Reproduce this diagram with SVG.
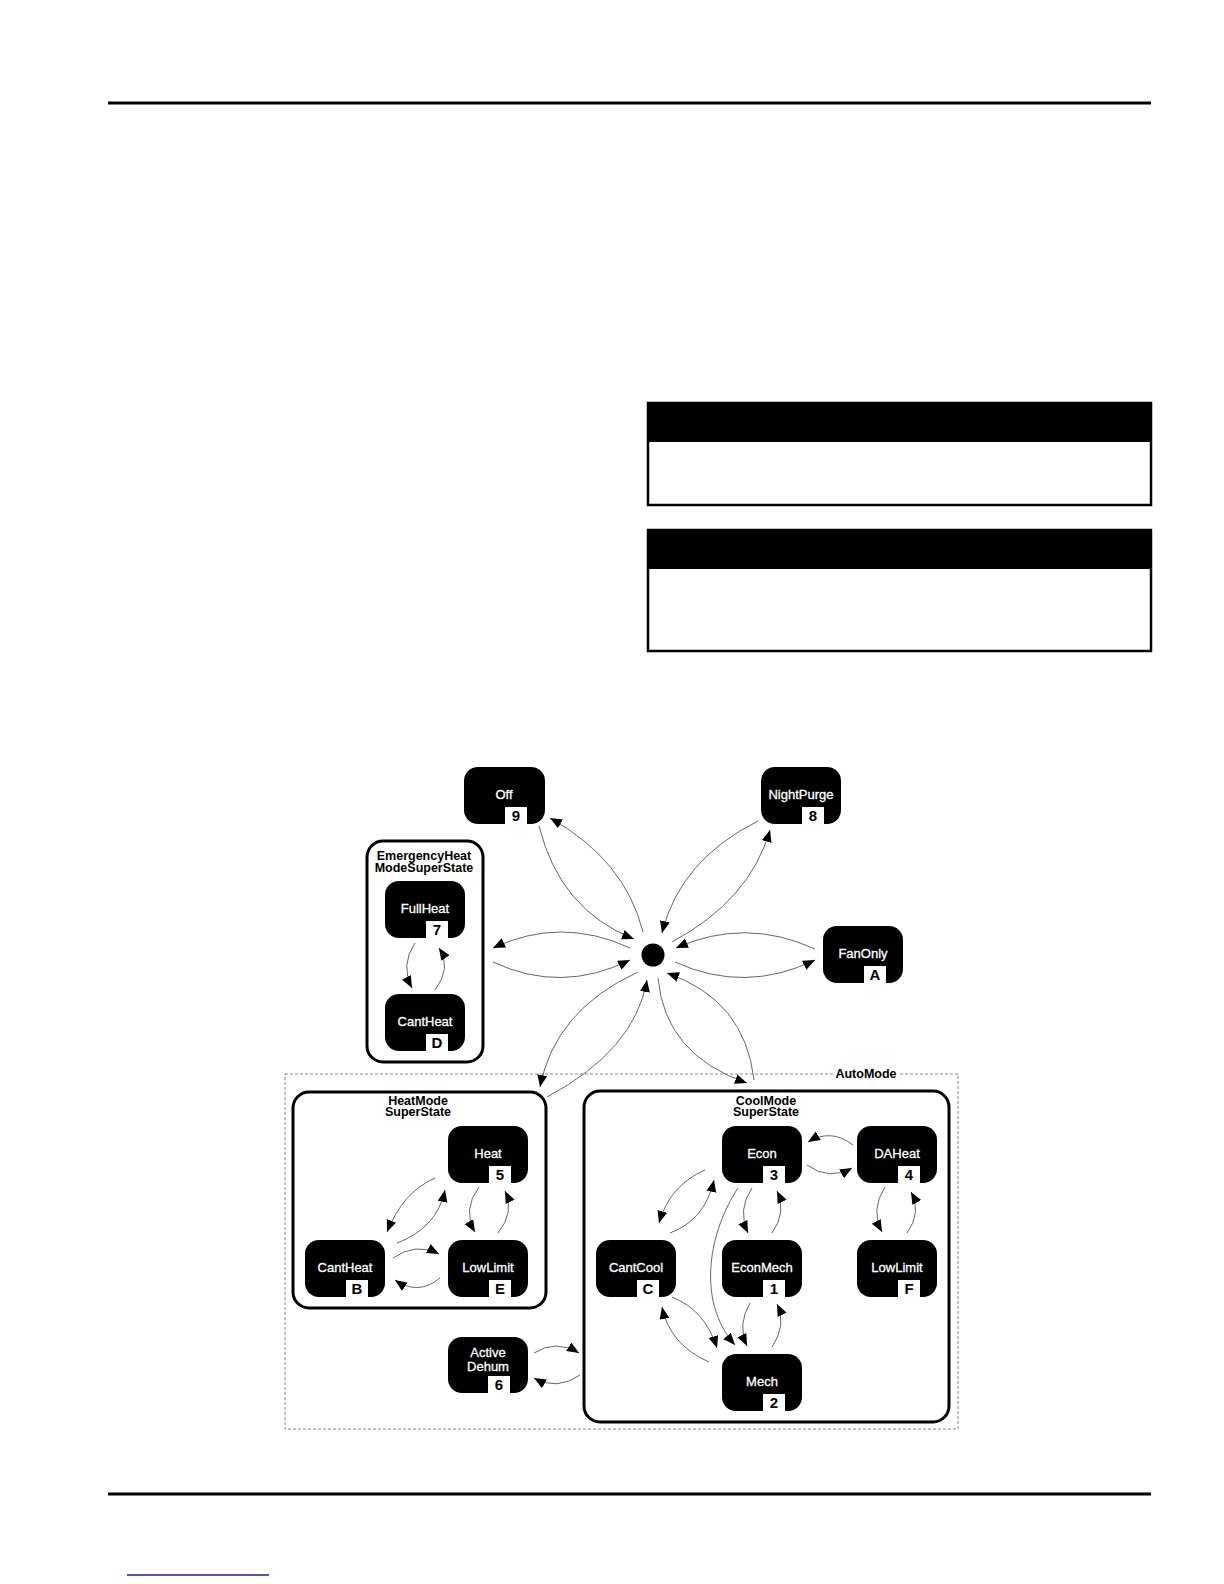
<svg xmlns="http://www.w3.org/2000/svg" width="1224" height="1584" viewBox="0 0 1224 1584">
<style>
  .node{fill:#000;}
  .lbl{fill:#fff;stroke:#fff;stroke-width:0.3;font-family:"Liberation Sans",Arial,sans-serif;font-size:13px;text-anchor:middle;}
  .nbox{fill:#fff;}
  .num{fill:#000;font-family:"Liberation Sans",Arial,sans-serif;font-size:15px;font-weight:bold;text-anchor:middle;}
  .sup{fill:#fff;stroke:#000;stroke-width:3;}
  .title{fill:#000;font-family:"Liberation Sans",Arial,sans-serif;font-size:12.5px;font-weight:bold;text-anchor:middle;}
  .conn path{fill:none;stroke:#666;stroke-width:1;marker-end:url(#arr);}
  .rule{stroke:#000;stroke-width:3;}
</style>
<defs>
  <marker id="arr" markerUnits="userSpaceOnUse" markerWidth="13" markerHeight="11" refX="12" refY="5" orient="auto">
    <path d="M0,0 L12,5 L0,10 z" fill="#000"/>
  </marker>
</defs>
<rect width="1224" height="1584" fill="#fff"/>

<!-- page furniture -->
<line class="rule" x1="108" y1="103" x2="1151" y2="103"/>
<line class="rule" x1="108" y1="1494" x2="1151" y2="1494"/>
<line x1="127" y1="1575" x2="269" y2="1575" stroke="#1c1c8f" stroke-width="1.5"/>
<g id="box1">
  <rect x="648" y="403" width="503" height="102" fill="#fff" stroke="#000" stroke-width="2.5"/>
  <rect x="647" y="402" width="505" height="40" fill="#000"/>
</g>
<g id="box2">
  <rect x="648" y="530" width="503" height="121" fill="#fff" stroke="#000" stroke-width="2.5"/>
  <rect x="647" y="529" width="505" height="40" fill="#000"/>
</g>

<!-- AutoMode container -->
<g id="automode">
  <rect x="285" y="1074" width="673" height="355" fill="none" stroke="#888" stroke-width="1" stroke-dasharray="3,2"/>
  <rect x="833" y="1068" width="67" height="12" fill="#fff"/>
  <text class="title" x="866" y="1078">AutoMode</text>
</g>

<!-- superstates -->
<g id="emergency">
  <rect class="sup" x="367" y="841" width="116" height="221" rx="16"/>
  <text class="title" x="424" y="860">EmergencyHeat</text>
  <text class="title" x="424" y="872">ModeSuperState</text>
</g>
<g id="heatmode">
  <rect class="sup" x="293" y="1092" width="253" height="216" rx="16"/>
  <text class="title" x="418" y="1105">HeatMode</text>
  <text class="title" x="418" y="1116">SuperState</text>
</g>
<g id="coolmode">
  <rect class="sup" x="584" y="1091" width="365" height="331" rx="16"/>
  <text class="title" x="766" y="1105">CoolMode</text>
  <text class="title" x="766" y="1116">SuperState</text>
</g>

<!-- initial dot -->
<g id="dot"><circle cx="653" cy="955" r="11.5" fill="#000"/></g>

<!-- nodes -->
<g id="off" transform="translate(464,767)">
  <rect class="node" width="81" height="57" rx="14"/><text class="lbl" x="40" y="32">Off</text>
  <rect class="nbox" x="41" y="40" width="22" height="17"/><text class="num" x="52" y="54">9</text>
</g>
<g id="nightpurge" transform="translate(761,767)">
  <rect class="node" width="80" height="57" rx="14"/><text class="lbl" x="40" y="32">NightPurge</text>
  <rect class="nbox" x="41" y="40" width="22" height="17"/><text class="num" x="52" y="54">8</text>
</g>
<g id="fanonly" transform="translate(823,926)">
  <rect class="node" width="80" height="57" rx="14"/><text class="lbl" x="40" y="32">FanOnly</text>
  <rect class="nbox" x="41" y="40" width="22" height="17"/><text class="num" x="52" y="54">A</text>
</g>
<g id="fullheat" transform="translate(385,881)">
  <rect class="node" width="80" height="57" rx="14"/><text class="lbl" x="40" y="32">FullHeat</text>
  <rect class="nbox" x="41" y="40" width="22" height="17"/><text class="num" x="52" y="54">7</text>
</g>
<g id="cantheat-d" transform="translate(385,994)">
  <rect class="node" width="80" height="57" rx="14"/><text class="lbl" x="40" y="32">CantHeat</text>
  <rect class="nbox" x="41" y="40" width="22" height="17"/><text class="num" x="52" y="54">D</text>
</g>
<g id="heat" transform="translate(448,1126)">
  <rect class="node" width="80" height="57" rx="14"/><text class="lbl" x="40" y="32">Heat</text>
  <rect class="nbox" x="41" y="40" width="22" height="17"/><text class="num" x="52" y="54">5</text>
</g>
<g id="cantheat-b" transform="translate(305,1240)">
  <rect class="node" width="80" height="57" rx="14"/><text class="lbl" x="40" y="32">CantHeat</text>
  <rect class="nbox" x="41" y="40" width="22" height="17"/><text class="num" x="52" y="54">B</text>
</g>
<g id="lowlimit-e" transform="translate(448,1240)">
  <rect class="node" width="80" height="57" rx="14"/><text class="lbl" x="40" y="32">LowLimit</text>
  <rect class="nbox" x="41" y="40" width="22" height="17"/><text class="num" x="52" y="54">E</text>
</g>
<g id="econ" transform="translate(722,1126)">
  <rect class="node" width="80" height="57" rx="14"/><text class="lbl" x="40" y="32">Econ</text>
  <rect class="nbox" x="41" y="40" width="22" height="17"/><text class="num" x="52" y="54">3</text>
</g>
<g id="daheat" transform="translate(857,1126)">
  <rect class="node" width="80" height="57" rx="14"/><text class="lbl" x="40" y="32">DAHeat</text>
  <rect class="nbox" x="41" y="40" width="22" height="17"/><text class="num" x="52" y="54">4</text>
</g>
<g id="cantcool" transform="translate(596,1240)">
  <rect class="node" width="80" height="57" rx="14"/><text class="lbl" x="40" y="32">CantCool</text>
  <rect class="nbox" x="41" y="40" width="22" height="17"/><text class="num" x="52" y="54">C</text>
</g>
<g id="econmech" transform="translate(722,1240)">
  <rect class="node" width="80" height="57" rx="14"/><text class="lbl" x="40" y="32">EconMech</text>
  <rect class="nbox" x="41" y="40" width="22" height="17"/><text class="num" x="52" y="54">1</text>
</g>
<g id="lowlimit-f" transform="translate(857,1240)">
  <rect class="node" width="80" height="57" rx="14"/><text class="lbl" x="40" y="32">LowLimit</text>
  <rect class="nbox" x="41" y="40" width="22" height="17"/><text class="num" x="52" y="54">F</text>
</g>
<g id="mech" transform="translate(722,1354)">
  <rect class="node" width="80" height="57" rx="14"/><text class="lbl" x="40" y="32">Mech</text>
  <rect class="nbox" x="41" y="40" width="22" height="17"/><text class="num" x="52" y="54">2</text>
</g>
<g id="activedehum" transform="translate(448,1337)">
  <rect class="node" width="80" height="56" rx="14"/><text class="lbl" x="40" y="20">Active</text><text class="lbl" x="40" y="34">Dehum</text>
  <rect class="nbox" x="40" y="39" width="22" height="17"/><text class="num" x="51" y="53">6</text>
</g>

<!-- connectors -->
<g id="connectors" class="conn">
  <path d="M539,826 Q560,910 634,939"/>
  <path d="M643,932 Q625,860 550,818"/>
  <path d="M758,821 Q680,860 662,933"/>
  <path d="M672,942 Q750,900 770,830"/>
  <path d="M630,948 Q561,916 493,948"/>
  <path d="M493,962 Q561,994 630,960"/>
  <path d="M815,949 Q745,917 676,948"/>
  <path d="M675,962 Q745,994 815,960"/>
  <path d="M638,972 Q555,1010 540,1087"/>
  <path d="M547,1097 Q635,1050 647,980"/>
  <path d="M658,978 Q665,1055 747,1083"/>
  <path d="M754,1080 Q745,1000 667,973"/>
  <path d="M415,943 Q400,965 412,988"/>
  <path d="M435,990 Q452,968 439,948"/>
  <path d="M435,1178 Q403,1192 387,1232"/>
  <path d="M397,1243 Q437,1228 445,1190"/>
  <path d="M479,1187 Q462,1210 475,1232"/>
  <path d="M498,1233 Q515,1212 505,1191"/>
  <path d="M393,1258 Q416,1242 439,1254"/>
  <path d="M440,1278 Q418,1296 395,1280"/>
  <path d="M534,1353 Q556,1339 579,1353"/>
  <path d="M580,1375 Q557,1391 534,1378"/>
  <path d="M853,1145 Q831,1128 808,1142"/>
  <path d="M807,1165 Q829,1181 852,1168"/>
  <path d="M885,1187 Q870,1210 882,1232"/>
  <path d="M907,1233 Q922,1212 911,1192"/>
  <path d="M705,1170 Q670,1185 659,1223"/>
  <path d="M670,1233 Q705,1220 714,1180"/>
  <path d="M752,1188 Q737,1210 748,1233"/>
  <path d="M772,1233 Q787,1212 777,1191"/>
  <path d="M738,1188 C710,1230 695,1300 735,1345"/>
  <path d="M750,1303 Q737,1325 747,1346"/>
  <path d="M772,1347 Q787,1325 777,1304"/>
  <path d="M672,1297 Q705,1310 717,1348"/>
  <path d="M709,1362 Q670,1345 662,1307"/>
</g>
</svg>
